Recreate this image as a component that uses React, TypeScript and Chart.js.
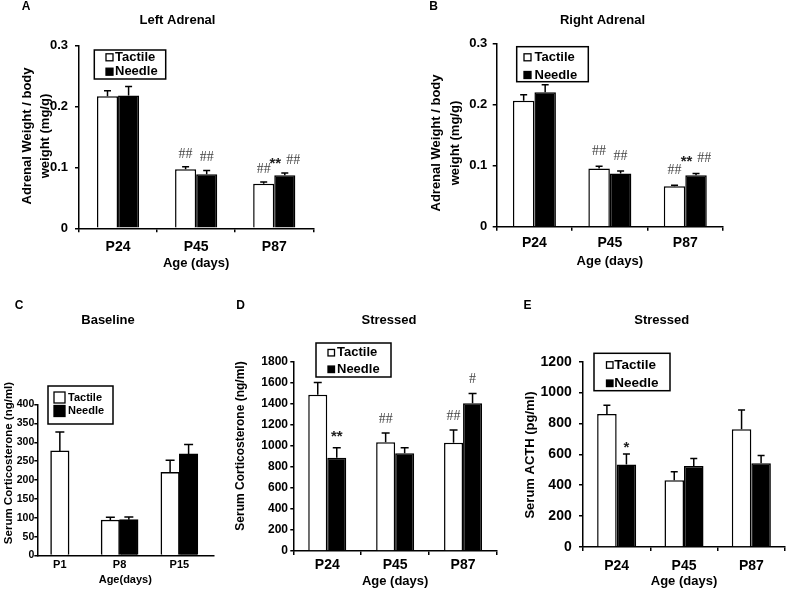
import React, { useEffect, useRef } from 'react';
import { Chart, registerables } from 'chart.js';

Chart.register(...registerables);

// ---------------- DATA ----------------
const adultAges = ['P24', 'P45', 'P87'];
const babyAges = ['P1', 'P8', 'P15'];
const seriesNames = ['Tactile', 'Needle'];

const leftTactile = [0.217, 0.097, 0.073];
const leftTactileErr = [0.009, 0.004, 0.003];
const leftNeedle = [0.218, 0.089, 0.087];
const leftNeedleErr = [0.015, 0.006, 0.004];
const leftTactileMarks = ['', '##', '##'];
const leftNeedleMarks = ['', '##', '** ##'];

const rightTactile = [0.206, 0.095, 0.066];
const rightTactileErr = [0.01, 0.004, 0.002];
const rightNeedle = [0.22, 0.087, 0.084];
const rightNeedleErr = [0.012, 0.004, 0.003];
const rightTactileMarks = ['', '##', '##'];
const rightNeedleMarks = ['', '##', '** ##'];

const baseTactile = [277, 94, 220];
const baseTactileErr = [50, 7, 32];
const baseNeedle = [null, 95, 269];
const baseNeedleErr = [null, 7, 25];

const cortTactile = [1487, 1035, 1032];
const cortTactileErr = [118, 89, 121];
const cortNeedle = [889, 930, 1408];
const cortNeedleErr = [95, 54, 92];
const cortTactileMarks = ['', '##', '##'];
const cortNeedleMarks = ['**', '', '#'];

const acthTactile = [862, 433, 763];
const acthTactileErr = [56, 54, 125];
const acthNeedle = [535, 524, 543];
const acthNeedleErr = [68, 49, 50];
const acthTactileMarks = ['', '', ''];
const acthNeedleMarks = ['*', '', ''];

// ---------------- STYLE ----------------
const SANS = '"Liberation Sans", Arial, Helvetica, sans-serif';
const SERIF = '"Liberation Serif", "Times New Roman", serif';
const F = (size: number, family: string = SANS, weight: string = 'bold') => ({ size, family, weight, lineHeight: 1.2 });
const css = (f: any) => `${f.weight} ${f.size}px ${f.family}`;

const panels: any[] = [
  {
    box: [0, 0, 395, 280], area: [79, 45.7, 313.3, 228.3],
    labels: adultAges, values: [leftTactile, leftNeedle], errors: [leftTactileErr, leftNeedleErr],
    marks: [leftTactileMarks, leftNeedleMarks],
    yMax: 0.3, yStep: 0.1, yDigits: 1, yTickFont: F(13), yTickLen: 4, yLabelRight: 68,
    xTickFont: F(14), xTickLen: 4, xLabelY: 247, xTitle: 'Age (days)', xTitleFont: F(13), xTitleY: 263,
    yTitle: ['Adrenal Weight / body', 'weight (mg/g)'], yTitleX: [27, 45], yTitleY: 136, yTitleFont: F(13),
    title: 'Left Adrenal', titleX: 177.5, titleY: 20, titleFont: F(13),
    letter: 'A', letterX: 26, letterY: 7, letterFont: F(12),
    legend: { box: [94.3, 50, 165.7, 79], rows: [57.3, 71.7], sq: 7, sqX: 106, textX: 115, font: F(13) },
    catPct: 0.54, capW: 7, markOffset: 14,
  },
  {
    box: [400, 0, 387, 280], area: [496.7, 43.3, 723, 226.7],
    labels: adultAges, values: [rightTactile, rightNeedle], errors: [rightTactileErr, rightNeedleErr],
    marks: [rightTactileMarks, rightNeedleMarks],
    yMax: 0.3, yStep: 0.1, yDigits: 1, yTickFont: F(13), yTickLen: 4, yLabelRight: 487.3,
    xTickFont: F(14), xTickLen: 4, xLabelY: 243.3, xTitle: 'Age (days)', xTitleFont: F(13), xTitleY: 261.7,
    yTitle: ['Adrenal Weight / body', 'weight (mg/g)'], yTitleX: [436.7, 455], yTitleY: 143, yTitleFont: F(13),
    title: 'Right Adrenal', titleX: 602.5, titleY: 20, titleFont: F(13),
    letter: 'B', letterX: 433.7, letterY: 7, letterFont: F(12),
    legend: { box: [516.7, 46.7, 588.3, 81.7], rows: [57.3, 75], sq: 7, sqX: 524, textX: 534.5, font: F(13) },
    catPct: 0.57, capW: 7, markOffset: 16,
  },
  {
    box: [0, 280, 228, 310], area: [37.3, 404.5, 213.3, 555.5],
    labels: babyAges, values: [baseTactile, baseNeedle], errors: [baseTactileErr, baseNeedleErr],
    marks: null,
    yMax: 400, yStep: 50, yDigits: 0, yTickFont: F(10.5), yTickLen: 3, yLabelRight: 34.3,
    xTickFont: F(11), xTickLen: 0, xLabelY: 564.5, xTitle: 'Age(days)', xTitleFont: F(11), xTitleY: 580,
    yTitle: ['Serum Corticosterone (ng/ml)'], yTitleX: [8.5], yTitleY: 463, yTitleFont: F(11.5),
    title: 'Baseline', titleX: 108, titleY: 320, titleFont: F(13),
    letter: 'C', letterX: 19, letterY: 306, letterFont: F(12),
    legend: { box: [48, 386, 113, 424], rows: [397.5, 411], sq: 11, sqX: 54, textX: 68, font: F(11) },
    barThickness: 18.5, skipNull: true, xStart: -0.3774, xSpan: 2.9456, capW: 9, markOffset: 14,
  },
  {
    box: [228, 280, 287, 310], area: [293.3, 362, 497, 551],
    labels: adultAges, values: [cortTactile, cortNeedle], errors: [cortTactileErr, cortNeedleErr],
    marks: [cortTactileMarks, cortNeedleMarks],
    yMax: 1800, yStep: 200, yDigits: 0, yTickFont: F(12), yTickLen: 3, yLabelRight: 288,
    xTickFont: F(14), xTickLen: 4, xLabelY: 565, xTitle: 'Age (days)', xTitleFont: F(13), xTitleY: 581.7,
    yTitle: ['Serum Corticosterone (ng/ml)'], yTitleX: [241], yTitleY: 446, yTitleFont: F(12),
    title: 'Stressed', titleX: 389, titleY: 320, titleFont: F(13),
    letter: 'D', letterX: 240.7, letterY: 306, letterFont: F(12),
    legend: { box: [316, 343, 391, 377], rows: [352.7, 369.3], sq: 6.5, sqX: 328, textX: 337, font: F(13) },
    catPct: 0.56, capW: 8, markOffset: 15,
  },
  {
    box: [515, 280, 272, 310], area: [583, 361.7, 785, 547],
    labels: adultAges, values: [acthTactile, acthNeedle], errors: [acthTactileErr, acthNeedleErr],
    marks: [acthTactileMarks, acthNeedleMarks],
    yMax: 1200, yStep: 200, yDigits: 0, yTickFont: F(14), yTickLen: 4, yLabelRight: 571.7,
    xTickFont: F(14), xTickLen: 4, xLabelY: 565.7, xTitle: 'Age (days)', xTitleFont: F(13), xTitleY: 581.7,
    yTitle: ['Serum ACTH (pg/ml)'], yTitleX: [530], yTitleY: 455, yTitleFont: F(13),
    title: 'Stressed', titleX: 661.7, titleY: 320, titleFont: F(13),
    letter: 'E', letterX: 527.5, letterY: 306, letterFont: F(12),
    legend: { box: [594, 353.3, 670, 390.7], rows: [365, 383.3], sq: 6.5, sqX: 606.5, textX: 614.3, font: F(13.5) },
    catPct: 0.58, capW: 7, markOffset: 11,
  },
];

function drawMark(ctx: CanvasRenderingContext2D, text: string, cx: number, cy: number) {
  const tokens = text.split(' ');
  const gap = 5;
  const specs = tokens.map((t) => {
    const star = t.indexOf('*') >= 0;
    const size = star ? 15 : 14;
    const font = star ? `bold ${size}px ${SANS}` : `${size}px ${SERIF}`;
    ctx.font = font;
    return { t, font, w: ctx.measureText(t).width, dy: star ? 0.58 * size : 0.34 * size, color: star ? '#222' : '#444' };
  });
  const total = specs.reduce((s, p) => s + p.w, 0) + gap * (specs.length - 1);
  let x = cx - total / 2;
  ctx.textAlign = 'left';
  ctx.textBaseline = 'alphabetic';
  specs.forEach((p) => {
    ctx.font = p.font;
    ctx.fillStyle = p.color;
    ctx.fillText(p.t, x, cy + p.dy);
    x += p.w + gap;
  });
}

function makePlugin(cfg: any) {
  const [bx, by] = cfg.box;
  return {
    id: 'decor',
    afterDatasetsDraw(chart: any) {
      const ctx = chart.ctx as CanvasRenderingContext2D;
      const ys = chart.scales.y;
      chart.data.datasets.forEach((ds: any, di: number) => {
        const meta = chart.getDatasetMeta(di);
        meta.data.forEach((el: any, j: number) => {
          const v = ds.data[j];
          const e = cfg.errors[di][j];
          if (v == null || e == null) return;
          const top = ys.getPixelForValue(v + e);
          ctx.save();
          ctx.strokeStyle = '#000';
          ctx.lineWidth = 1.5;
          ctx.beginPath();
          ctx.moveTo(el.x, el.y);
          ctx.lineTo(el.x, top);
          ctx.moveTo(el.x - cfg.capW / 2, top);
          ctx.lineTo(el.x + cfg.capW / 2, top);
          ctx.stroke();
          const mark = cfg.marks && cfg.marks[di] ? cfg.marks[di][j] : '';
          if (mark) drawMark(ctx, mark, el.x, top - cfg.markOffset);
          ctx.restore();
        });
      });
    },
    afterDraw(chart: any) {
      const ctx = chart.ctx as CanvasRenderingContext2D;
      ctx.save();
      ctx.fillStyle = '#000';
      ctx.textAlign = 'center';
      ctx.textBaseline = 'middle';
      ctx.font = css(cfg.titleFont);
      ctx.fillText(cfg.title, cfg.titleX - bx, cfg.titleY - by);
      ctx.font = css(cfg.letterFont);
      ctx.fillText(cfg.letter, cfg.letterX - bx, cfg.letterY - by);
      ctx.font = css(cfg.yTitleFont);
      cfg.yTitle.forEach((line: string, i: number) => {
        ctx.save();
        ctx.translate(cfg.yTitleX[i] - bx, cfg.yTitleY - by);
        ctx.rotate(-Math.PI / 2);
        ctx.fillText(line, 0, 0);
        ctx.restore();
      });
      const lg = cfg.legend;
      const [l, t, r, b] = lg.box;
      ctx.fillStyle = '#fff';
      ctx.fillRect(l - bx, t - by, r - l, b - t);
      ctx.strokeStyle = '#000';
      ctx.lineWidth = 1.5;
      ctx.strokeRect(l - bx, t - by, r - l, b - t);
      ctx.textAlign = 'left';
      ctx.font = css(lg.font);
      seriesNames.forEach((name, i) => {
        const ry = lg.rows[i] - by;
        ctx.fillStyle = i === 0 ? '#fff' : '#000';
        ctx.fillRect(lg.sqX - bx, ry - lg.sq / 2, lg.sq, lg.sq);
        ctx.lineWidth = 1.3;
        ctx.strokeRect(lg.sqX - bx, ry - lg.sq / 2, lg.sq, lg.sq);
        ctx.fillStyle = '#000';
        ctx.fillText(name, lg.textX - bx, ry);
      });
      ctx.restore();
    },
  };
}

function buildConfig(cfg: any): any {
  const [bx, by, bw, bh] = cfg.box;
  const [al, at, ar, ab] = cfg.area;
  const xPad = cfg.xLabelY - ab - cfg.xTickLen - cfg.xTickFont.size * 0.6;
  const yPad = al - cfg.yLabelRight - cfg.yTickLen;
  const xTitlePad = by + bh - cfg.xTitleY - cfg.xTitleFont.size * 0.6;
  const xAxis: any = {
    offset: true,
    grid: {
      display: cfg.xTickLen > 0, drawOnChartArea: false, drawTicks: true,
      tickLength: cfg.xTickLen, color: '#000', lineWidth: 1.5, offset: true,
    },
    border: { display: true, color: '#000', width: 1.5 },
    ticks: { color: '#000', font: cfg.xTickFont, padding: xPad, maxRotation: 0, minRotation: 0, autoSkip: false },
    title: { display: true, text: cfg.xTitle, color: '#000', font: cfg.xTitleFont, padding: { top: 0, bottom: xTitlePad } },
    afterFit: (s: any) => { s.height = by + bh - ab; },
  };
  if (cfg.xStart !== undefined) {
    xAxis.afterBuildTicks = (s: any) => {
      s._startValue = cfg.xStart;
      s._valueRange = cfg.xSpan;
    };
  }
  const barOpts: any = { barPercentage: 1, categoryPercentage: cfg.catPct || 0.8 };
  if (cfg.barThickness) barOpts.barThickness = cfg.barThickness;
  return {
    type: 'bar',
    data: {
      labels: cfg.labels,
      datasets: [
        { label: seriesNames[0], data: cfg.values[0], backgroundColor: '#fff', borderColor: '#000', borderWidth: 1.5 },
        { label: seriesNames[1], data: cfg.values[1], backgroundColor: '#000', borderColor: '#000', borderWidth: 1.5 },
      ],
    },
    options: {
      animation: false,
      responsive: false,
      maintainAspectRatio: false,
      skipNull: !!cfg.skipNull,
      datasets: { bar: barOpts },
      layout: { padding: { top: at - by, right: bx + bw - ar, left: 0, bottom: 0 } },
      plugins: { legend: { display: false }, tooltip: { enabled: false }, title: { display: false } },
      scales: {
        x: xAxis,
        y: {
          min: 0, max: cfg.yMax,
          grid: { display: true, drawOnChartArea: false, drawTicks: true, tickLength: cfg.yTickLen, color: '#000', lineWidth: 1.5 },
          border: { display: true, color: '#000', width: 1.5 },
          ticks: {
            stepSize: cfg.yStep, color: '#000', font: cfg.yTickFont, padding: yPad,
            callback: (v: any) => {
              const n = Number(v);
              return n === 0 ? '0' : n.toFixed(cfg.yDigits);
            },
          },
          afterFit: (s: any) => { s.width = al - bx; },
        },
      },
    },
    plugins: [makePlugin(cfg)],
  };
}

function Panel({ cfg }: { cfg: any }) {
  const ref = useRef<HTMLCanvasElement>(null);
  useEffect(() => {
    if (!ref.current) return;
    const chart = new Chart(ref.current, buildConfig(cfg));
    return () => chart.destroy();
  }, [cfg]);
  const [x, y, w, h] = cfg.box;
  return (
    <canvas
      ref={ref}
      width={w}
      height={h}
      style={{ position: 'absolute', left: x, top: y, width: w, height: h }}
    />
  );
}

export default function App() {
  return (
    <div style={{ position: 'absolute', left: 0, top: 0, width: 787, height: 590, background: '#fff', overflow: 'hidden' }}>
      {panels.map((p, i) => (
        <Panel key={i} cfg={p} />
      ))}
    </div>
  );
}
